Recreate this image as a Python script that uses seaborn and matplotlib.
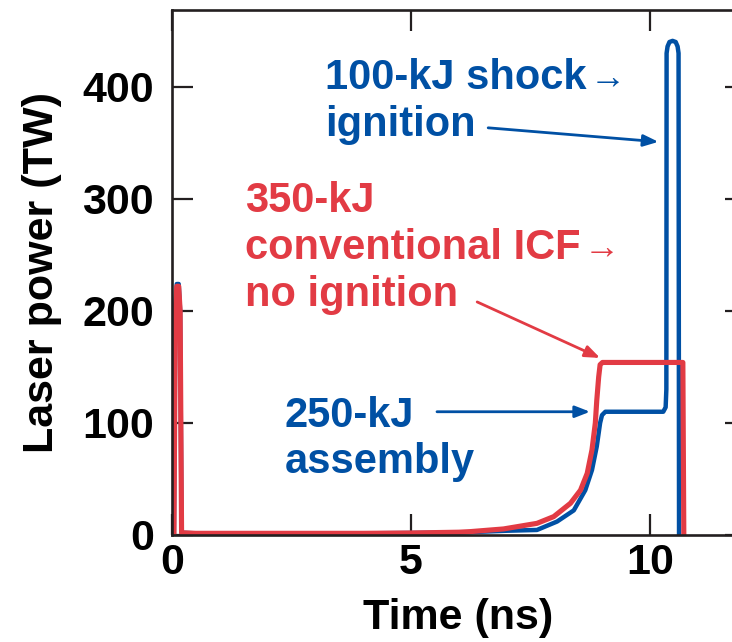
import numpy as np
import pandas as pd
import matplotlib
matplotlib.use("Agg")
import matplotlib.pyplot as plt
import seaborn as sns

# pulse shapes (time in ns, power in TW)
t_shock = [0.0, 0.04, 0.07, 0.10, 0.14, 0.17, 0.20, 0.5, 2.0, 4.0, 5.0, 6.0, 6.5, 7.0,
           7.63, 8.05, 8.4, 8.64, 8.78, 8.88, 8.95, 8.99, 9.06, 10.27, 10.32, 10.335, 10.34, 10.36,
           10.40, 10.465, 10.53, 10.57, 10.59, 10.6]
p_shock = [0, 0, 200, 224, 224, 200, 2, 1.5, 1.5, 1.5, 1.8, 2.2, 3, 3.8,
           4.5, 12, 22, 40, 58, 79, 100, 107, 110, 110, 114, 130, 430, 436,
           440, 441, 440, 436, 430, 0]

t_conv = [0.0, 0.04, 0.07, 0.10, 0.14, 0.17, 0.20, 0.5, 2.0, 4.0, 5.0, 6.0, 6.23, 6.93,
          7.63, 7.98, 8.33, 8.54, 8.68, 8.78, 8.85, 8.88, 8.92, 8.95, 9.0, 10.68, 10.7]
p_conv = [0, 0, 200, 222, 222, 200, 2, 1.5, 1.5, 1.5, 1.8, 2.5, 3, 5.4,
          10.4, 16.4, 28.3, 40, 55, 76, 100, 120, 141, 152, 154, 154, 0]

xticks = [0, 5, 10]
yticks = [0, 100, 200, 300, 400]

blue = "#0050a4"
red = "#e23b44"
ink = "#231f20"

df_shock = pd.DataFrame({"t": t_shock, "p": p_shock})
df_conv = pd.DataFrame({"t": t_conv, "p": p_conv})

sns.set_style("ticks")
plt.rcParams["font.family"] = ["Liberation Sans", "DejaVu Sans"]
plt.rcParams["font.weight"] = "bold"
plt.rcParams["text.color"] = "black"
plt.rcParams["axes.labelcolor"] = "black"

fig = plt.figure(figsize=(7.32, 6.42), dpi=100)
ax = fig.add_axes([172 / 732, 107 / 642, 574 / 732, 525.5 / 642])

sns.lineplot(data=df_shock, x="t", y="p", sort=False, estimator=None, color=blue,
             lw=3.2, ax=ax, solid_joinstyle="round", solid_capstyle="round")
sns.lineplot(data=df_conv, x="t", y="p", sort=False, estimator=None, color=red,
             lw=3.7, ax=ax, solid_joinstyle="round", solid_capstyle="round")

ax.set_xlim(0, 12)
ax.set_ylim(0, 469)
ax.set_xticks(xticks)
ax.set_yticks(yticks)
ax.tick_params(axis="both", direction="in", length=15, width=1.6, color=ink,
               labelcolor="black", labelsize=31, top=True, right=True)
ax.tick_params(axis="x", pad=6)
ax.tick_params(axis="y", pad=13)
for lab in ax.get_xticklabels() + ax.get_yticklabels():
    lab.set_fontweight("bold")
for s in ax.spines.values():
    s.set_linewidth(1.9)
    s.set_color(ink)

ax.set_xlabel("Time (ns)", fontsize=31, fontweight="bold", color="black")
ax.set_ylabel("Laser power (TW)", fontsize=31, fontweight="bold", color="black")
ax.xaxis.set_label_coords(286 / 574, -0.12)
ax.yaxis.set_label_coords(-110 / 574, 0.5)

# annotations
fs = 30


def label(x, y, lines, color, gap=47, arrow_line=None):
    for i, line in enumerate(lines):
        txt = ax.annotate(line, xy=(x, y), xytext=(0, -gap * i * 0.72), textcoords="offset points",
                          color=color, fontsize=fs, fontweight="bold", va="baseline", ha="left")
        if i == arrow_line:
            ax.annotate("\u2192", xy=(1, 0), xycoords=txt, xytext=(2, 7), textcoords="offset points",
                        color=color, fontsize=26, fontweight="normal", va="baseline", ha="left")


label(3.2, 398, ["100-kJ shock", "ignition"], blue, gap=47, arrow_line=0)
label(1.53, 288, ["350-kJ", "conventional ICF", "no ignition"], red, gap=47, arrow_line=1)
label(2.36, 96, ["250-kJ", "assembly"], blue, gap=46)

arrow = dict(arrowstyle="-|>,head_length=0.9,head_width=0.35", lw=2, shrinkA=0, shrinkB=0)
ax.annotate("", xy=(10.17, 350.9), xytext=(6.61, 363.4), arrowprops=dict(arrow, color=blue))
ax.annotate("", xy=(8.95, 158), xytext=(6.38, 208), arrowprops=dict(arrow, color=red))
ax.annotate("", xy=(8.74, 110), xytext=(5.54, 110), arrowprops=dict(arrow, color=blue))

fig.savefig("out.png", dpi=100)
